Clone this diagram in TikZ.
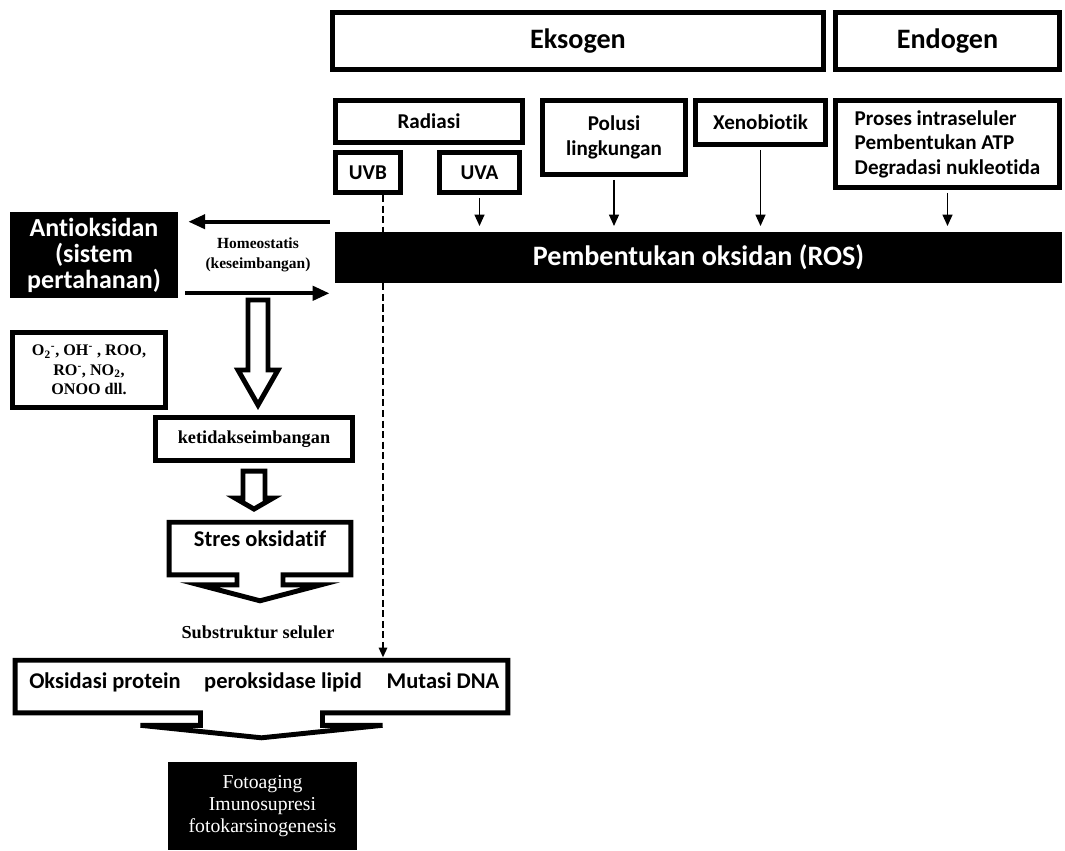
\documentclass[tikz,border=0pt]{standalone}
\usepackage{fontspec}
\setmainfont{Carlito}[Ligatures=NoCommon]
\newfontfamily\timesfont{Liberation Serif}
\usetikzlibrary{arrows.meta,positioning,calc}

\begin{document}
\begin{tikzpicture}[
    x=0.025cm, y=-0.025cm,
    every node/.style={inner sep=2pt},
    blk/.style={rectangle, draw, line width=3.5pt, align=center},
    hdrbox/.style={blk, minimum height=1.43cm, font=\fontsize{20}{24}\selectfont\bfseries},
    srcbox/.style={blk, font=\fontsize{15}{17.5}\selectfont\bfseries},
    darkbox/.style={rectangle, fill=black, text=white, align=center},
    serifbf/.style={font=\timesfont\bfseries\fontsize{13}{15}\selectfont, align=center},
    bodytxt/.style={font=\fontsize{16}{19}\selectfont\bfseries, text height=2.2ex, text depth=0.6ex},
    outline/.style={line width=3.5pt, line join=miter},
    hollowarr/.style={draw, line width=3.5pt, line join=miter, fill=white},
    thinarr/.style={-{Triangle[length=8pt,width=7pt]}, line width=1pt, shorten <=2pt, shorten >=4pt},
    homarr/.style={-{Triangle[length=12pt,width=10pt]}, line width=2.8pt},
    dasharr/.style={line width=1.3pt, dash pattern=on 5pt off 2.5pt}
  ]
    \useasboundingbox (0,0) rectangle (1065,850);

    % Headers
    \node[hdrbox, minimum width=12.28cm] (eks) at (578,41) {Eksogen};
    \node[hdrbox, minimum width=5.6cm] (endo) at (947.5,41) {Endogen};

    % Sources of oxidants
    \node[srcbox, minimum width=4.68cm, minimum height=1.05cm] (rad) at (429,121.5) {Radiasi};
    \node[srcbox, minimum width=1.63cm, minimum height=1cm] (uvb) at (368,172.5) {UVB};
    \node[srcbox, minimum width=2cm, minimum height=1cm] (uva) at (479.5,172.5) {UVA};
    \node[srcbox, minimum width=3.58cm, minimum height=1.85cm] (pol) at (614,137.5) {Polusi\\lingkungan};
    \node[srcbox, minimum width=3.25cm, minimum height=1.1cm] (xeno) at (760.5,122.5) {Xenobiotik};
    \node[srcbox, minimum width=5.6cm, minimum height=2.18cm, align=left] (proc) at (947.5,144)
      {Proses intraseluler\\Pembentukan ATP\\Degradasi nukleotida};

    % ROS bar and defence
    \node[darkbox, minimum width=18.18cm, minimum height=1.28cm,
      font=\fontsize{20}{24}\selectfont\bfseries] (ros) at (698.5,257.5) {Pembentukan oksidan (ROS)};
    \node[darkbox, minimum width=4.2cm, minimum height=2.15cm,
      font=\fontsize{18.5}{18.5}\selectfont\bfseries] (anti) at (94,255) {Antioksidan\\(sistem\\pertahanan)};
    \node[serifbf, font=\timesfont\bfseries\fontsize{11}{14}\selectfont] (homeo) at (258,255)
      {Homeostatis\\(keseimbangan)};

    \node[blk, minimum width=3.83cm, minimum height=1.88cm,
      font=\timesfont\bfseries\fontsize{11.5}{14}\selectfont] (oxid) at (89,370)
      {O\textsubscript{2}\textsuperscript{-}, OH\textsuperscript{-} , ROO,\\RO\textsuperscript{-}, NO\textsubscript{2},\\ONOO dll.};

    % Imbalance chain
    \node[blk, serifbf, minimum width=4.93cm, minimum height=1.08cm] (keti) at (254,439) {ketidakseimbangan};
    \node[bodytxt, minimum width=4.525cm, minimum height=1.3cm] (stres) at (260,548.5) {};
    \node[bodytxt] (stxt) at (260,541) {Stres oksidatif};
    \node[serifbf] (sub) at (258,632) {Substruktur seluler};
    \node[minimum width=12.3cm, minimum height=1.3cm] (sel) at (261.5,686.5) {};
    \node[bodytxt] (prot) at (105,683) {Oksidasi protein};
    \node[bodytxt] (lipid) at (283,683) {peroksidase lipid};
    \node[bodytxt] (dna) at (443,683) {Mutasi DNA};
    \node[darkbox, minimum width=4.73cm, minimum height=2.2cm,
      font=\timesfont\fontsize{14}{15.5}\selectfont] (foto) at (262.5,806)
      {Fotoaging\\Imunosupresi\\fotokarsinogenesis};

    % Callout outlines
    \draw[outline] (stres.south west) -- (stres.north west) -- (stres.north east) -- (stres.south east)
      -- ($(stres.south)+(23,0)$) -- ++(0,10) -- ++(38,0) -- ($(stres.south)+(0,26)$)
      -- ($(stres.south)+(-61,10)$) -- ++(38,0) -- ++(0,-10) -- cycle;
    \draw[outline] (sel.south west) -- (sel.north west) -- (sel.north east) -- (sel.south east)
      -- ($(sel.south)+(61,0)$) -- ++(0,12.5) -- ++(60,0) -- ($(sel.south)+(0,25)$)
      -- ($(sel.south)+(-121,12.5)$) -- ++(60,0) -- ++(0,-12.5) -- cycle;

    % Arrows into ROS
    \draw[thinarr] (uva.south) -- (uva.south |- ros.north);
    \draw[thinarr] (pol.south) -- (pol.south |- ros.north);
    \draw[thinarr] (xeno.south) -- (xeno.south |- ros.north);
    \draw[thinarr] (proc.south) -- (proc.south |- ros.north);

    % UVB dashed path
    \coordinate (uvbdrop) at ($(uvb.south)+(15,0)$);
    \draw[dasharr] (uvbdrop) -- (uvbdrop |- ros.north);
    \draw[dasharr, -{Triangle[length=7pt,width=6pt]}, shorten >=2pt] (uvbdrop |- ros.south) -- (uvbdrop |- sel.north);

    % Homeostasis
    \draw[homarr] ($(ros.west |- anti.north)+(-5,10)$) -- ($(anti.north east)+(10,10)$);
    \draw[homarr] ($(anti.south east)+(7,-5)$) -- ($(ros.west |- anti.south)+(-5,-5)$);

    % Hollow arrows
    \coordinate (bigtail) at (258,300);
    \draw[hollowarr] (bigtail) ++(-10,0) -- ++(0,70) -- ++(-10,0) -- ++(20,35) -- ++(20,-35)
      -- ++(-10,0) -- ++(0,-70) -- cycle;
    \draw[hollowarr] ($(keti.south)+(-11,8)$) -- ++(0,27) -- ++(-8,0) -- ($(keti.south)+(0,46)$)
      -- ++(19,-11) -- ++(-8,0) -- ++(0,-27) -- cycle;

  \end{tikzpicture}
\end{document}
